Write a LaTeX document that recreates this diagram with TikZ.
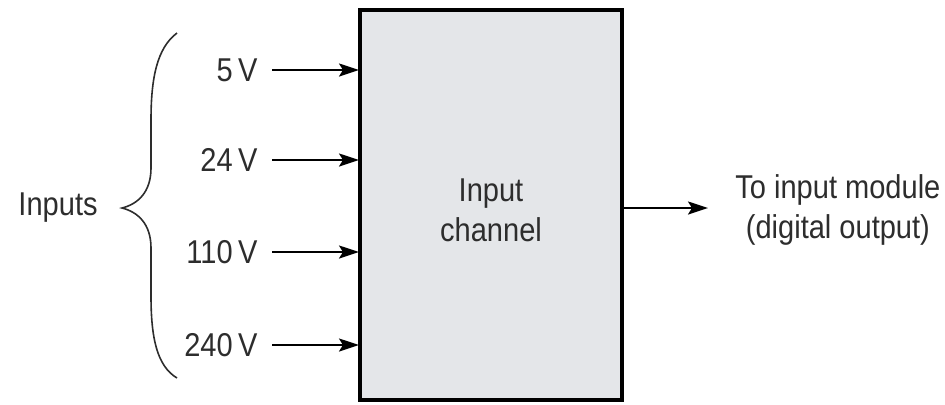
\documentclass[tikz,border=0pt]{standalone}
\usepackage{fontspec}
\setmainfont{Liberation Sans}[FakeStretch=0.88]
\usetikzlibrary{arrows.meta,positioning}
\definecolor{chgray}{RGB}{228,230,233}
\definecolor{txtgray}{RGB}{45,45,45}

\begin{document}
\begin{tikzpicture}[x=0.5pt, y=-0.5pt,
    lbl/.style={font=\fontsize{16.5}{19}\selectfont, text=txtgray, inner sep=0pt},
    arr/.style={-{Stealth[length=10pt, width=6.5pt, inset=2pt]}, line width=1.1pt, black}]

    \useasboundingbox (0,0) rectangle (945,404);

    % Channel box
    \draw[line width=2pt, fill=chgray] (360,10) rectangle (622,400);
    \node[lbl, align=center] (chan) at (491,210) {Input\\[1pt]channel};

    % Inputs
    \foreach \i/\v/\y in {1/5/70,2/24/160,3/110/252,4/240/345} {
        \node[lbl, anchor=east] (v\i) at (258,\y) {\v\,V};
        \coordinate (s\i) at (272,\y);
        \coordinate (e\i) at (359,\y);
        \draw[arr] (s\i) -- (e\i);
    }

    % Brace
    \draw[line width=0.8pt, txtgray] (177,33) .. controls (157,48) and (151,78) .. (151,120)
        -- (151,168) .. controls (151,192) and (138,204) .. (122,208)
        .. controls (138,212) and (151,224) .. (151,248)
        -- (151,296) .. controls (151,338) and (157,366) .. (177,378);
    \node[lbl, anchor=east] (inp) at (98,208) {Inputs};

    % Output
    \coordinate (o1) at (623,208);
    \coordinate (o2) at (708,208);
    \draw[arr] (o1) -- (o2);
    \node[lbl, anchor=west, align=center] (out) at (735,210) {To input module\\[1pt](digital output)};
\end{tikzpicture}
\end{document}
